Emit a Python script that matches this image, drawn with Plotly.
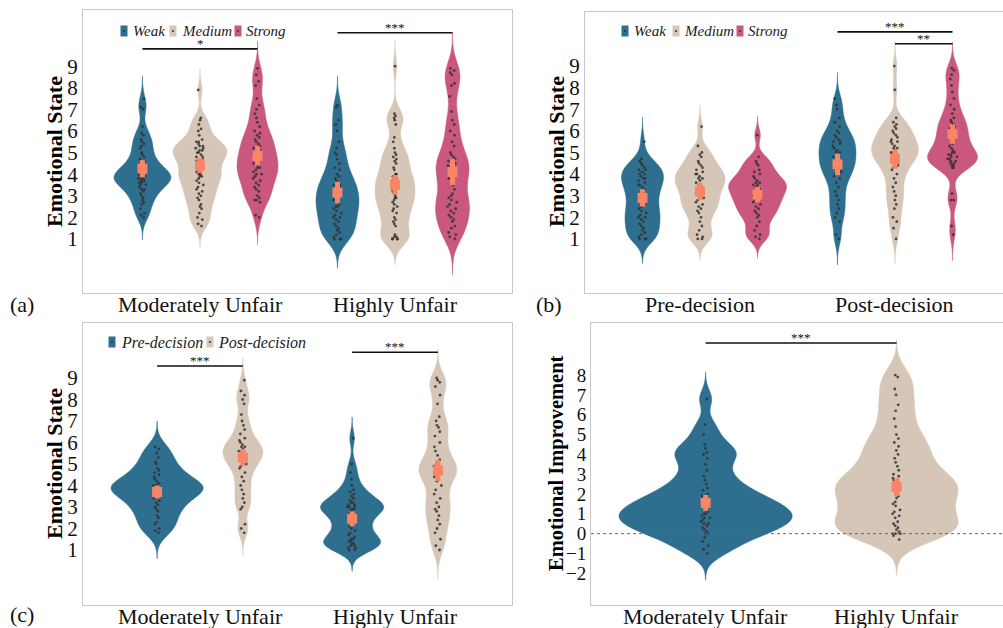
import numpy as np
import plotly.graph_objects as go

W, H = 1003, 628

# ------------------------------------------------------------------ data
strength_groups = ["Weak", "Medium", "Strong"]
fairness_cats = ["Moderately Unfair", "Highly Unfair"]
decision_cats = ["Pre-decision", "Post-decision"]
decision_groups = ["Pre-decision", "Post-decision"]
sig_a = ["*", "***"]
sig_b = ["***", "**"]
sig_c = ["***", "***"]
sig_d = ["***"]
panel_tags = ["(a)", "(b)", "(c)"]
ticks_state = [1, 2, 3, 4, 5, 6, 7, 8, 9]
ticks_improve = [-2, -1, 0, 1, 2, 3, 4, 5, 6, 7, 8]

# panel (a): emotional state by fairness x strength
a_mu_weak = [7.5, 7.1, 7.0, 6.2, 5.9, 5.8, 5.6, 5.5, 5.4, 5.3, 5.2, 5.0, 4.9, 4.8, 4.7, 4.6, 4.5, 4.4, 4.4,
             4.3, 4.2, 4.2, 4.1, 4.1, 4.0, 4.0, 4.0, 3.9, 3.9, 3.9, 3.8, 3.8, 3.8, 3.7, 3.7, 3.7, 3.6, 3.6,
             3.5, 3.5, 3.4, 3.3, 3.3, 3.2, 3.1, 3.0, 2.9, 2.8, 2.7, 2.6, 2.4, 2.2, 2.1, 2.0]
a_mu_medium = [7.9, 6.6, 6.5, 6.3, 6.1, 6.0, 5.8, 5.6, 5.5, 5.4, 5.3, 5.3, 5.2, 5.2, 5.1, 5.0, 5.0, 4.9, 4.8,
               4.7, 4.6, 4.5, 4.4, 4.3, 4.2, 4.1, 4.0, 4.0, 3.9, 3.8, 3.7, 3.6, 3.5, 3.4, 3.3, 3.2, 3.1, 3.0,
               2.9, 2.8, 2.6, 2.5, 2.4, 2.2, 2.0, 1.9, 1.7, 1.6, 4.6, 4.8, 5.5, 5.1, 3.9]
a_mu_strong = [8.9, 8.6, 8.3, 8.1, 7.5, 7.2, 7.0, 6.8, 6.6, 6.4, 6.2, 6.0, 5.9, 5.8, 5.7, 5.6, 5.5, 5.4, 5.3,
               5.2, 5.1, 5.0, 4.9, 4.8, 4.7, 4.6, 4.5, 4.4, 4.3, 4.2, 4.1, 4.0, 4.0, 3.9, 3.8, 3.7, 3.6, 3.5,
               3.4, 3.3, 3.2, 3.0, 2.9, 2.8, 2.8, 2.7, 2.1, 2.0, 4.5, 4.3, 5.0]
a_hu_weak = [7.2, 7.1, 6.5, 6.3, 6.0, 5.5, 5.2, 5.0, 4.9, 4.7, 4.5, 4.3, 4.2, 4.0, 3.9, 3.8, 3.7, 3.6, 3.5,
             3.4, 3.3, 3.2, 3.1, 3.0, 3.0, 2.9, 2.8, 2.7, 2.6, 2.5, 2.4, 2.3, 2.2, 2.1, 2.0, 2.0, 1.9, 1.8,
             1.7, 1.6, 1.5, 1.4, 1.3, 1.2, 1.1, 1.0, 1.0, 1.0, 2.5, 2.8, 3.5]
a_hu_medium = [9.0, 6.8, 6.7, 6.6, 6.5, 6.3, 5.7, 5.5, 5.2, 5.0, 4.9, 4.8, 4.7, 4.6, 4.5, 4.3, 4.2, 4.0, 3.9,
               3.8, 3.7, 3.6, 3.5, 3.4, 3.3, 3.2, 3.1, 3.0, 2.9, 2.8, 2.7, 2.6, 2.5, 2.4, 2.3, 2.2, 2.0, 1.9,
               1.8, 1.7, 1.6, 1.2, 1.1, 1.1, 1.0, 1.0, 1.0, 1.0, 3.5, 4.0, 2.9]
a_hu_strong = [8.9, 8.8, 8.7, 8.6, 8.2, 8.1, 7.6, 6.9, 6.5, 6.3, 6.0, 5.8, 5.5, 5.3, 5.0, 4.9, 4.8, 4.7, 4.6,
               4.5, 4.4, 4.3, 4.2, 4.1, 4.0, 3.9, 3.7, 3.5, 3.3, 3.1, 3.0, 2.9, 2.8, 2.7, 2.5, 2.4, 2.3, 2.2,
               2.1, 2.0, 1.9, 1.8, 1.6, 1.5, 1.3, 1.2, 1.1, 1.0, 3.8, 2.6]
a_means = [4.25, 4.4, 4.85, 3.15, 3.5, 4.1]
a_errs = [0.4, 0.35, 0.45, 0.5, 0.45, 0.6]

# panel (b): emotional state by decision stage x strength
b_pre_weak = [5.5, 4.7, 4.6, 4.5, 4.4, 4.3, 4.2, 4.1, 4.0, 4.0, 3.9, 3.8, 3.7, 3.6, 3.5, 3.4, 3.3, 3.2, 3.1,
              3.0, 2.9, 2.8, 2.7, 2.6, 2.5, 2.4, 2.3, 2.2, 2.1, 2.0, 1.9, 1.8, 1.7, 1.6, 1.5, 1.4, 1.3, 1.2,
              1.1, 1.0, 1.0, 1.0, 3.8, 4.2, 2.0, 3.5]
b_pre_medium = [6.2, 5.3, 5.0, 4.9, 4.8, 4.6, 4.5, 4.4, 4.3, 4.2, 4.1, 4.0, 3.9, 3.8, 3.7, 3.6, 3.5, 3.4, 3.3,
                3.2, 3.1, 3.0, 2.9, 2.8, 2.7, 2.6, 2.4, 2.3, 2.2, 2.0, 1.8, 1.6, 1.4, 1.2, 1.1, 1.0, 1.0, 3.5,
                3.8, 2.5, 4.0]
b_pre_strong = [5.8, 4.8, 4.6, 4.5, 4.4, 4.2, 4.1, 4.0, 3.9, 3.8, 3.7, 3.6, 3.5, 3.5, 3.4, 3.3, 3.2, 3.1, 3.0,
                2.9, 2.8, 2.7, 2.6, 2.5, 2.4, 2.3, 2.2, 2.1, 2.0, 1.8, 1.6, 1.4, 1.2, 1.1, 1.0, 3.3, 3.6, 2.9]
b_post_weak = [7.5, 7.2, 7.0, 6.6, 6.4, 6.2, 6.0, 5.9, 5.8, 5.7, 5.6, 5.5, 5.4, 5.3, 5.2, 5.1, 5.0, 4.9, 4.8,
               4.7, 4.6, 4.5, 4.4, 4.3, 4.2, 4.1, 4.0, 3.9, 3.8, 3.6, 3.4, 3.2, 3.0, 2.8, 2.6, 2.4, 2.2, 2.0,
               1.8, 1.2, 1.0, 5.5, 5.0, 4.5]
b_post_medium = [9.0, 7.9, 6.6, 6.4, 6.3, 6.2, 6.1, 6.0, 5.9, 5.8, 5.7, 5.6, 5.5, 5.4, 5.3, 5.2, 5.1, 5.0, 5.0,
                 4.9, 4.8, 4.7, 4.6, 4.5, 4.4, 4.3, 4.2, 4.0, 3.8, 3.6, 3.4, 3.2, 3.0, 2.8, 2.6, 2.4, 2.0, 1.8,
                 1.5, 1.0, 5.5, 5.2, 4.9]
b_post_strong = [8.9, 8.8, 8.6, 8.4, 8.1, 7.8, 7.5, 7.2, 7.0, 6.8, 6.6, 6.5, 6.4, 6.3, 6.2, 6.1, 6.0, 5.9, 5.8,
                 5.7, 5.6, 5.5, 5.4, 5.3, 5.2, 5.1, 5.0, 5.0, 4.9, 4.9, 4.8, 4.8, 4.7, 4.7, 4.6, 4.6, 4.5, 4.5,
                 4.4, 4.4, 4.3, 4.3, 3.1, 2.8, 2.8, 1.6, 1.2]
b_means = [2.9, 3.2, 3.05, 4.45, 4.7, 5.85]
b_errs = [0.4, 0.4, 0.35, 0.5, 0.45, 0.45]

# panel (c): emotional state by fairness x decision stage
c_mu_pre = [5.8, 5.7, 5.5, 5.3, 5.1, 5.0, 4.8, 4.7, 4.6, 4.5, 4.4, 4.3, 4.2, 4.1, 4.0, 4.0, 4.0, 3.9, 3.9, 3.8,
            3.8, 3.7, 3.7, 3.6, 3.5, 3.4, 3.3, 3.2, 3.1, 3.0, 2.9, 2.8, 2.6, 2.5, 2.3, 2.2, 2.0, 1.9, 1.8, 3.9]
c_mu_post = [8.9, 8.4, 8.2, 8.0, 7.8, 7.3, 7.0, 6.8, 6.6, 6.4, 6.2, 6.1, 6.0, 5.9, 5.8, 5.7, 5.6, 5.5, 5.4, 5.3,
             5.2, 5.1, 5.0, 4.9, 4.8, 4.6, 4.4, 4.2, 4.0, 3.8, 3.6, 3.4, 3.2, 3.0, 2.9, 2.2, 2.0, 1.8, 5.6, 5.3,
             5.8]
c_hu_pre = [6.2, 5.0, 4.6, 4.3, 4.0, 3.8, 3.7, 3.6, 3.5, 3.4, 3.3, 3.2, 3.2, 3.1, 3.1, 3.0, 3.0, 3.0, 2.9, 2.9,
            2.8, 2.8, 2.7, 2.6, 2.5, 2.4, 2.3, 2.2, 2.1, 2.0, 1.9, 1.8, 1.7, 1.6, 1.5, 1.5, 1.4, 1.4, 1.3, 1.3,
            1.2, 1.2, 1.1, 1.1, 1.0, 1.0]
c_hu_post = [9.0, 8.9, 8.8, 8.6, 8.2, 7.8, 7.2, 7.0, 6.8, 6.7, 6.5, 6.3, 6.0, 5.8, 5.6, 5.4, 5.2, 5.0, 4.9, 4.8,
             4.7, 4.6, 4.5, 4.4, 4.2, 4.0, 3.8, 3.6, 3.4, 3.2, 3.0, 2.9, 2.8, 2.6, 2.4, 2.2, 2.0, 1.8, 1.5, 1.2,
             1.0, 4.6, 5.0]
c_means = [3.7, 5.3, 2.45, 4.7]
c_errs = [0.3, 0.4, 0.35, 0.5]

# panel (d): emotional improvement by fairness
d_mu = [6.8, 5.5, 5.0, 4.5, 4.3, 4.1, 4.0, 3.8, 3.5, 3.2, 2.9, 2.7, 2.5, 2.3, 2.2, 2.0, 1.9, 1.8, 1.7, 1.6,
        1.5, 1.4, 1.4, 1.3, 1.2, 1.1, 1.0, 1.0, 0.9, 0.8, 0.8, 0.7, 0.6, 0.5, 0.5, 0.4, 0.3, 0.2, 0.1, 0.0,
        0.0, -0.2, -0.4, -0.6, -0.8, -1.0]
d_hu = [8.0, 7.9, 7.3, 7.0, 6.5, 6.2, 5.8, 5.4, 5.0, 4.8, 4.6, 4.4, 4.2, 4.0, 3.8, 3.6, 3.4, 3.2, 3.0, 2.9,
        2.8, 2.7, 2.6, 2.5, 2.4, 2.3, 2.2, 2.1, 2.0, 1.9, 1.8, 1.6, 1.5, 1.4, 1.2, 1.1, 1.0, 0.9, 0.8, 0.6,
        0.5, 0.4, 0.3, 0.2, 0.1, 0.0, 0.0, 0.0, -0.1, -0.3]
d_means = [1.55, 2.35]
d_errs = [0.4, 0.45]

# ------------------------------------------------------------------ styles
C_BLUE, C_BEIGE, C_PINK = "#2E6E8F", "#D6C6B7", "#C9577E"
C_MEAN = "#FA8466"
C_PTS = "#333333"
SERIF = "Liberation Serif, Times New Roman, serif"

# panel geometry (pixels in the 1003x628 picture)
PANELS = {
    "a": dict(ax="", x=(83, 512), y=(10, 293), xr=(-0.6, 1.6), yr=(-1.5, 11.6)),
    "b": dict(ax="2", x=(585, 1003), y=(12, 293), xr=(-0.59, 1.554), yr=(-1.5, 11.5)),
    "c": dict(ax="3", x=(83, 512), y=(323, 605), xr=(-0.6, 1.6), yr=(-1.56, 11.56)),
    "d": dict(ax="4", x=(591, 1003), y=(323, 605), xr=(-0.6, 1.557), yr=(-3.6, 10.63)),
}
for p in PANELS.values():
    p["unit"] = (p["x"][1] - p["x"][0]) / (p["xr"][1] - p["xr"][0])

fig = go.Figure()


def add_violin(panel, vals, xpos, width_px, color, bw):
    p = PANELS[panel]
    lo, hi = min(vals) - 3 * bw, max(vals) + 3 * bw
    fig.add_trace(go.Violin(
        x0=xpos, y=vals, xaxis="x" + p["ax"], yaxis="y" + p["ax"],
        width=width_px / p["unit"], scalemode="width",
        bandwidth=bw, spanmode="manual", span=[lo, hi],
        fillcolor=color, line=dict(color=color, width=0.5), opacity=1,
        points="all", pointpos=0, jitter=min(1.0, 10.0 / width_px),
        marker=dict(size=2.8, color=C_PTS, opacity=0.85),
        showlegend=False, hoverinfo="skip",
    ))


def add_means(panel, xs, means, errs):
    p = PANELS[panel]
    fig.add_trace(go.Scatter(
        x=xs, y=means, xaxis="x" + p["ax"], yaxis="y" + p["ax"], mode="markers",
        marker=dict(symbol="square", size=10, color=C_MEAN),
        error_y=dict(type="data", array=errs, thickness=5, width=0, color=C_MEAN),
        showlegend=False, hoverinfo="skip",
    ))


# panel a
off3 = [-0.295, 0.0, 0.295]
cols3 = [C_BLUE, C_BEIGE, C_PINK]
w_a = [57, 54, 41, 43, 40, 34]
bw_a = [0.35, 0.33, 0.42, 0.45, 0.4, 0.55]
a_sets = [a_mu_weak, a_mu_medium, a_mu_strong, a_hu_weak, a_hu_medium, a_hu_strong]
a_x = []
for i, vals in enumerate(a_sets):
    g, k = divmod(i, 3)
    a_x.append(g + off3[k])
    add_violin("a", vals, g + off3[k], w_a[i], cols3[k], bw_a[i])
add_means("a", a_x, a_means, a_errs)

# panel b
w_b = [42, 50, 58, 37, 47, 50]
bw_b = [0.38, 0.33, 0.3, 0.4, 0.38, 0.4]
b_sets = [b_pre_weak, b_pre_medium, b_pre_strong, b_post_weak, b_post_medium, b_post_strong]
b_x = []
for i, vals in enumerate(b_sets):
    g, k = divmod(i, 3)
    b_x.append(g + off3[k])
    add_violin("b", vals, g + off3[k], w_b[i], cols3[k], bw_b[i])
add_means("b", b_x, b_means, b_errs)

# panel c
off2 = [-0.22, 0.22]
cols2 = [C_BLUE, C_BEIGE]
w_c = [92, 40, 63, 38]
bw_c = [0.4, 0.35, 0.33, 0.45]
c_sets = [c_mu_pre, c_mu_post, c_hu_pre, c_hu_post]
c_x = []
for i, vals in enumerate(c_sets):
    g, k = divmod(i, 2)
    c_x.append(g + off2[k])
    add_violin("c", vals, g + off2[k], w_c[i], cols2[k], bw_c[i])
add_means("c", c_x, c_means, c_errs)

# panel d
w_d = [173, 123]
bw_d = [0.45, 0.6]
d_x = [0, 1]
for i, vals in enumerate([d_mu, d_hu]):
    add_violin("d", vals, d_x[i], w_d[i], cols2[i], bw_d[i])
add_means("d", d_x, d_means, d_errs)

# ------------------------------------------------------------------ axes
layout = dict(width=W, height=H, margin=dict(l=0, r=0, t=0, b=0),
              paper_bgcolor="white", plot_bgcolor="white", violinmode="overlay",
              font=dict(family=SERIF, color="black"), showlegend=False)
xlabels = {"a": fairness_cats, "b": decision_cats, "c": fairness_cats, "d": fairness_cats}
ytitles = {"a": "Emotional State", "b": "Emotional State", "c": "Emotional State", "d": "Emotional Improvement"}
yticks = {"a": ticks_state, "b": ticks_state, "c": ticks_state, "d": ticks_improve}
ytitle_pos = {"a": (55, 152), "b": (557, 152), "c": (55, 464), "d": (556, 463)}
shapes, annos = [], []


def px(xp, yp):
    return xp / W, 1 - yp / H


for key, p in PANELS.items():
    xd = [p["x"][0] / W, p["x"][1] / W]
    yd = [1 - p["y"][1] / H, 1 - p["y"][0] / H]
    layout["xaxis" + p["ax"]] = dict(
        domain=xd, range=list(p["xr"]), type="linear", anchor="y" + p["ax"],
        tickvals=[0, 1], showticklabels=False, ticks="", showgrid=False, zeroline=False,
        showline=True, linecolor="#C8C8C8", linewidth=1, mirror=True, fixedrange=True)
    dsmall = key == "d"
    layout["yaxis" + p["ax"]] = dict(
        domain=yd, range=list(p["yr"]), anchor="x" + p["ax"],
        tickvals=yticks[key], ticks="", showgrid=False, zeroline=False,
        showline=True, linecolor="#C8C8C8", linewidth=1, mirror=True,
        tickfont=dict(family=SERIF, size=19 if dsmall else 21, color="#111"),
        fixedrange=True)
    # y-axis title
    tx, ty = px(*ytitle_pos[key])
    annos.append(dict(xref="paper", yref="paper", x=tx, y=ty, text="<b>%s</b>" % ytitles[key], textangle=-90,
                      showarrow=False, xanchor="center", yanchor="middle",
                      font=dict(family=SERIF, size=20.5 if dsmall else 22, color="black")))
    # category labels under each panel
    _, ylab = px(0, p["y"][1] + 11)
    for gx, lab in enumerate(xlabels[key]):
        annos.append(dict(xref="x" + p["ax"], yref="paper", x=gx, y=ylab, text=lab, showarrow=False,
                          xanchor="center", yanchor="middle", font=dict(family=SERIF, size=22, color="#111")))
fig.update_layout(**layout)


def sig(panel, x0, x1, y, text):
    ax = PANELS[panel]["ax"]
    shapes.append(dict(type="line", xref="x" + ax, yref="y" + ax, x0=x0, x1=x1, y0=y, y1=y,
                       line=dict(color="#111", width=1.6)))
    annos.append(dict(xref="x" + ax, yref="y" + ax, x=(x0 + x1) / 2, y=y, text=text, showarrow=False,
                      yanchor="bottom", yshift=-4, font=dict(family=SERIF, size=13, color="#111")))


sig("a", a_x[0], a_x[2], 9.8, sig_a[0])
sig("a", a_x[3], a_x[5], 10.55, sig_a[1])
sig("b", b_x[3], b_x[5], 10.58, sig_b[0])
sig("b", b_x[4], b_x[5], 10.03, sig_b[1])
sig("c", c_x[0], c_x[1], 9.56, sig_c[0])
sig("c", c_x[2], c_x[3], 10.2, sig_c[1])
sig("d", d_x[0], d_x[1], 9.62, sig_d[0])

# zero reference line in panel d
shapes.append(dict(type="line", xref="x4 domain", yref="y4", x0=0, x1=1, y0=0, y1=0,
                   line=dict(color="#666", width=1, dash="3px,3px")))


def legend(items, key_x, text_x, yc, fsize):
    for lab, col, kx, tx in zip(items, [C_BLUE, C_BEIGE, C_PINK], key_x, text_x):
        x0, y0 = px(kx - 3.5, yc + 5.5)
        x1, y1 = px(kx + 3.5, yc - 5.5)
        shapes.append(dict(type="rect", xref="paper", yref="paper", x0=x0, x1=x1, y0=y0, y1=y1,
                           fillcolor=col, line=dict(width=0)))
        dx0, dy0 = px(kx - 1, yc + 1)
        dx1, dy1 = px(kx + 1, yc - 1)
        shapes.append(dict(type="circle", xref="paper", yref="paper", x0=dx0, x1=dx1, y0=dy0, y1=dy1,
                           fillcolor=C_PTS, line=dict(width=0)))
        tx_, ty_ = px(tx, yc)
        annos.append(dict(xref="paper", yref="paper", x=tx_, y=ty_, text="<i>%s</i>" % lab, showarrow=False,
                          xanchor="left", yanchor="middle", font=dict(family=SERIF, size=fsize, color="#222")))


legend(strength_groups, [124, 173, 238], [131, 180, 244], 31, 15)
legend(strength_groups, [625, 676, 740], [632, 682, 746], 31, 15)
legend(decision_groups, [112, 210], [119, 216], 342, 16)

for tag, (tx, ty) in zip(panel_tags, [(22, 305), (549, 305), (22, 614)]):
    x_, y_ = px(tx, ty)
    annos.append(dict(xref="paper", yref="paper", x=x_, y=y_, text=tag, showarrow=False,
                      xanchor="center", yanchor="middle", font=dict(family=SERIF, size=22, color="#111")))

fig.update_layout(shapes=shapes, annotations=annos)
fig.write_html("out.html", config={"displayModeBar": False},
               post_script="document.body.style.margin='0';document.body.style.overflow='hidden';")
